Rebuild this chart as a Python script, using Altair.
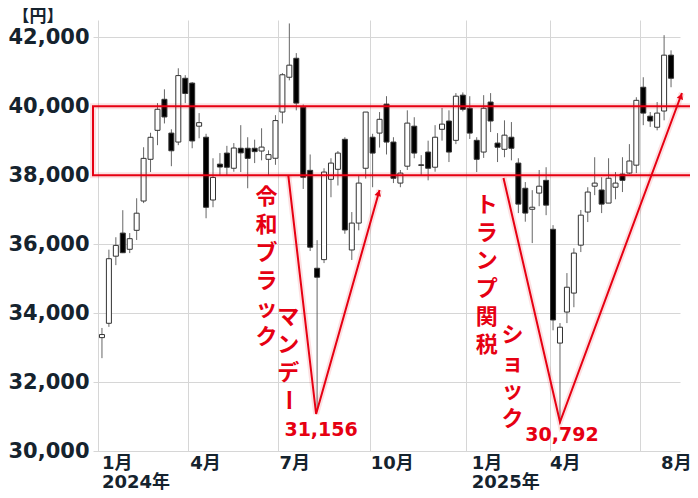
import altair as alt
import pandas as pd

# ---------------- data (weekly candles, Friday of each week) ----------------
first_week = "2024-01-05"
opens = [33288, 33704, 35650, 36320, 35850, 36400, 37250, 38460, 39300, 40200,
         39220, 38960, 40810, 40670, 39420, 39100, 37280, 38320, 38640, 38200,
         38780, 38780, 38780, 38700, 38460, 38490, 39830, 40840, 41390, 39970,
         38140, 35300, 35550, 37880, 38170, 39040, 35830, 36610, 38200, 39100,
         39220, 40060, 38960, 37770, 38260, 39420, 38300, 38670, 38230, 39330,
         39570, 39010, 40320, 39940, 39010, 38670, 40120, 38930, 38750, 39100,
         38350, 37620, 37010, 37480, 37850, 36430, 33130, 34030, 34580, 35970,
         36930, 37680, 37570, 37190, 37650, 38030, 38060, 38290, 40550, 39710,
         39390, 39860, 41480]
highs = [33568, 35839, 36200, 36984, 36320, 37330, 38810, 39230, 40090, 40490,
         39330, 41100, 40900, 40700, 39800, 39200, 38490, 38640, 38850, 38930,
         39450, 39100, 39030, 39360, 38720, 39740, 40960, 42400, 41540, 40050,
         38600, 36115, 38200, 38490, 38700, 39100, 36930, 38000, 39830, 39200,
         39830, 40290, 39100, 38150, 39880, 39680, 38580, 39000, 39450, 39950,
         39880, 40380, 40400, 40290, 39100, 40320, 40380, 39220, 39590, 39540,
         38490, 37800, 37565, 38150, 38230, 36550, 33710, 35160, 35880, 36990,
         37650, 38520, 37940, 38490, 38090, 38520, 38900, 40260, 40840, 39830,
         40120, 42060, 41620]
lows = [32693, 33600, 35390, 35740, 35740, 36120, 37190, 38090, 38870, 39500,
        38260, 38870, 40090, 38780, 39070, 36750, 37070, 38000, 38000, 38100,
        38090, 37620, 38350, 38430, 38000, 38300, 39500, 40750, 39880, 37600,
        35800, 31156, 35450, 37360, 37700, 36300, 35540, 36400, 37900, 37650,
        38800, 38600, 37770, 37650, 38150, 38490, 38000, 37850, 38100, 39000,
        38380, 38900, 39850, 39050, 38090, 38500, 39250, 38380, 38520, 38430,
        36900, 36650, 36030, 37100, 36840, 33500, 30792, 33710, 34170, 35770,
        36640, 37420, 36900, 37190, 37300, 37510, 38030, 38060, 39450, 39400,
        39300, 39590, 40550]
closes = [33377, 35577, 35963, 35751, 36158, 36897, 38487, 39098, 39910, 39688,
          38707, 40888, 40369, 38992, 39523, 37068, 37934, 38236, 38229, 38787,
          38646, 38487, 38683, 38814, 38596, 39583, 40912, 41190, 40090, 37940,
          35910, 35040, 38090, 38350, 38640, 36410, 36610, 37770, 39830, 38640,
          39620, 38960, 37910, 38060, 39510, 38640, 38283, 38200, 39100, 39480,
          38670, 40290, 39910, 39220, 38460, 39940, 39570, 38810, 39160, 38780,
          37160, 36900, 37070, 37680, 37130, 33800, 33590, 34750, 35740, 36840,
          37510, 37770, 37160, 37910, 37770, 37850, 38410, 40170, 39800, 39570,
          39800, 41480, 40810]

# range box (円)
box_low = [38000]
box_high = [40000]

# x-axis grid dates and labels
grid_dates = ["2024-01-01", "2024-04-01", "2024-07-01", "2024-10-01",
              "2025-01-06", "2025-04-01", "2025-07-01"]
month_labels = ["1月", "4月", "7月", "10月", "1月", "4月", "8月"]
month_label_dates = ["2024-01-05", "2024-04-03", "2024-07-02", "2024-10-02",
                     "2025-01-12", "2025-04-01", "2025-07-22"]
year_labels = ["2024年", "2025年"]
year_label_dates = ["2024-01-05", "2025-01-12"]
y_ticks = [30000, 32000, 34000, 36000, 38000, 40000, 42000]

# V-shaped annotation lines
v_group = ["a", "a", "a", "b", "b", "b"]
v_order = [0, 1, 2, 0, 1, 2]
v_dates = ["2024-07-11", "2024-08-08", "2024-10-11",
           "2025-02-13", "2025-04-11", "2025-08-12"]
v_values = [37976, 31073, 37570, 37918, 30841, 40383]
arrow_dates = ["2024-10-10", "2025-08-11"]
arrow_values = [37480, 40290]
arrow_angles = [17, 21]

# annotation texts (vertical writing; value = position of first character)
note_texts = ["令\n和\nブ\nラ\nッ\nク", "マ\nン\nデ", "ト\nラ\nン\nプ\n関\n税", "シ\nョ\nッ\nク"]
note_dates = ["2024-06-19", "2024-07-11", "2025-01-27", "2025-02-22"]
note_values = [37367, 33886, 37135, 33365]
bar_dates = ["2024-07-11"]
bar_values = [31479]
low_texts = ["31,156", "30,792"]
low_dates = ["2024-08-13", "2025-04-13"]
low_values = [30609, 30464]

# ---------------- build tables ----------------
dates = pd.date_range(first_week, periods=len(closes), freq="7D").strftime("%Y-%m-%d")
candles = pd.DataFrame({"date": dates, "open": opens, "high": highs,
                        "low": lows, "close": closes})
candles["dir"] = ["up" if c >= o else "down" for o, c in zip(opens, closes)]

box = pd.DataFrame({"lo": box_low, "hi": box_high})
vlines = pd.DataFrame({"g": v_group, "o": v_order, "date": v_dates, "value": v_values})
arrows = pd.DataFrame({"date": arrow_dates, "value": arrow_values, "angle": arrow_angles})
notes = pd.DataFrame({"date": note_dates, "value": note_values, "text": note_texts})
bars = pd.DataFrame({"date": bar_dates, "value": bar_values, "text": ["ー"]})
lowlab = pd.DataFrame({"date": low_dates, "value": low_values, "text": low_texts})
months = pd.DataFrame({"date": month_label_dates, "text": month_labels})
years = pd.DataFrame({"date": year_label_dates, "text": year_labels})
unit = pd.DataFrame({"text": ["【円】"]})

# ---------------- styling ----------------
W, H = 587, 431
RED = "#e60012"
DARK = "#15232e"
GRID = "#d6d6d6"
NUMFONT = "DejaVu Sans, Noto Sans CJK JP"
JPFONT = "Noto Sans CJK JP"

def dt(s):
    y, m, d = (int(p) for p in s.split("-"))
    return alt.DateTime(year=y, month=m, date=d)

x_scale = alt.Scale(domain=[dt("2024-01-01"), dt("2025-08-05")])
y_scale = alt.Scale(domain=[30000, 42500], nice=False, zero=False)
x_axis = alt.Axis(values=[dt(s) for s in grid_dates], labels=False, ticks=False,
                  domain=False, grid=True, gridColor=GRID, gridWidth=1, title=None)
y_axis = alt.Axis(values=y_ticks, format=",.0f", labelFont="DejaVu Sans",
                  labelFontSize=21, labelFontWeight="bold", labelColor=DARK,
                  labelPadding=4, labelFlush=False, ticks=False, domain=False,
                  grid=True, gridColor=GRID, gridWidth=1, title=None)

def X(f):
    return alt.X(f"{f}:T", scale=x_scale, axis=x_axis)

def Y(f):
    return alt.Y(f"{f}:Q", scale=y_scale, axis=y_axis)

base = alt.Chart(candles)
wicks = base.mark_rule(color="#666666", strokeWidth=1).encode(
    x=X("date"), y=Y("low"), y2="high")
bodies = base.mark_bar(size=5, stroke="#333333", strokeWidth=1).encode(
    x=X("date"), y=Y("open"), y2="close",
    color=alt.Color("dir:N", scale=alt.Scale(domain=["up", "down"],
                                             range=["#ffffff", "#000000"]),
                    legend=None))

box_glow = alt.Chart(box).mark_rect(fillOpacity=0, stroke=RED, strokeWidth=6,
                                    strokeOpacity=0.12).encode(
    x=alt.value(0), x2=alt.value(W + 40), y=Y("hi"), y2="lo")
box_rect = alt.Chart(box).mark_rect(fillOpacity=0, stroke=RED, strokeWidth=2).encode(
    x=alt.value(0), x2=alt.value(W + 40), y=Y("hi"), y2="lo")

v_glow = alt.Chart(vlines).mark_line(color=RED, strokeWidth=6, opacity=0.12,
                                     strokeJoin="miter").encode(
    x=X("date"), y=Y("value"), detail="g:N", order="o:Q")
v_line = alt.Chart(vlines).mark_line(color=RED, strokeWidth=2,
                                     strokeJoin="miter").encode(
    x=X("date"), y=Y("value"), detail="g:N", order="o:Q")
arrow_heads = alt.Chart(arrows).mark_point(shape="triangle-up", filled=True,
                                           color=RED, opacity=1, size=45).encode(
    x=X("date"), y=Y("value"), angle=alt.Angle("angle:Q", scale=None))

note_text = alt.Chart(notes).mark_text(
    lineBreak="\n", lineHeight=28, fontSize=22, font=JPFONT, fontWeight="bold",
    color=RED, align="center", baseline="middle").encode(
    x=X("date"), y=Y("value"), text="text:N")
bar_text = alt.Chart(bars).mark_text(
    fontSize=22, font=JPFONT, fontWeight="bold", color=RED, angle=90,
    align="center", baseline="middle").encode(
    x=X("date"), y=Y("value"), text="text:N")
low_text = alt.Chart(lowlab).mark_text(
    fontSize=19, font=NUMFONT, fontWeight="bold", color=RED,
    align="center", baseline="middle").encode(
    x=X("date"), y=Y("value"), text="text:N")

month_text = alt.Chart(months).mark_text(
    fontSize=18, font=NUMFONT, fontWeight="bold", color=DARK,
    align="left", baseline="middle").encode(
    x=X("date"), y=alt.value(444), text="text:N")
year_text = alt.Chart(years).mark_text(
    fontSize=18, font=NUMFONT, fontWeight="bold", color=DARK,
    align="left", baseline="middle").encode(
    x=X("date"), y=alt.value(463), text="text:N")
unit_text = alt.Chart(unit).mark_text(
    fontSize=17, font=JPFONT, fontWeight="bold", color=DARK,
    align="center", baseline="middle").encode(
    x=alt.value(-55), y=alt.value(-3), text="text:N")

chart = alt.layer(
    wicks, bodies, box_glow, box_rect, v_glow, v_line, arrow_heads,
    note_text, bar_text, low_text, month_text, year_text, unit_text
).properties(
    width=W, height=H,
    autosize=alt.AutoSizeParams(type="none"),
    padding={"left": 85, "top": 12, "right": 10, "bottom": 39},
).configure_view(strokeWidth=0)

chart.save("out.html", embed_options={"renderer": "svg", "actions": False})
